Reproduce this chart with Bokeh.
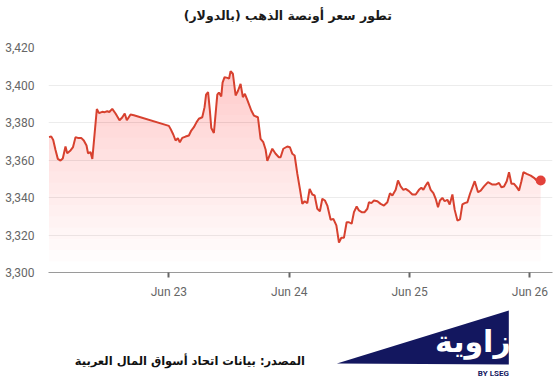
import numpy as np
from bokeh.plotting import figure
from bokeh.layouts import column
from bokeh.models import Range1d, FixedTicker, NumeralTickFormatter
from bokeh.core.properties import value
from bokeh.embed import file_html
from bokeh.resources import INLINE

TITLE = "تطور سعر أونصة الذهب (بالدولار)"
SOURCE = "المصدر: بيانات اتحاد أسواق المال العربية"
LOGO_TEXT = "زاوية"
LOGO_SUB = "BY LSEG"

# hours since Jun 22 00:00
hours = [0.1, 0.54, 0.94, 1.40, 1.86, 2.39, 2.85, 3.39, 3.73, 4.39, 4.89, 5.39, 5.85, 6.52,
         7.04, 7.58, 7.88, 8.38, 8.74, 9.64, 10.07, 10.71, 11.21, 11.71, 12.13, 12.71, 13.37,
         14.16, 14.70, 15.20, 15.62, 16.36, 17.02, 24.00, 24.34, 24.88, 25.34, 25.80, 26.19,
         26.67, 27.33, 27.99, 28.47, 28.99, 29.53, 29.98, 30.66, 31.12, 31.42, 31.82, 32.18,
         32.46, 32.98, 33.66, 33.98, 34.45, 34.71, 35.11, 35.65, 36.01, 36.31, 36.77, 37.31,
         37.77, 38.30, 38.76, 39.16, 39.64, 40.44, 40.96, 41.76, 42.29, 42.83, 43.29, 43.63,
         44.15, 44.63, 45.29, 45.94, 46.28, 46.82, 47.62, 48.14, 48.62, 49.08, 49.62, 50.13,
         50.61, 51.07, 51.61, 52.07, 52.61, 53.07, 53.60, 54.12, 54.60, 55.12, 55.60, 56.26,
         56.80, 57.40, 57.92, 58.39, 58.91, 59.45, 59.91, 60.45, 60.91, 61.45, 61.90, 62.44,
         63.04, 63.58, 63.90, 64.38, 64.90, 65.58, 66.23, 66.89, 67.57, 68.09, 68.57, 69.23,
         69.69, 70.22, 70.76, 71.22, 71.88, 72.56, 73.22, 73.87, 74.35, 74.75, 75.21, 75.67,
         76.21, 76.75, 77.21, 77.67, 78.06, 78.54, 79.00, 79.54, 80.00, 80.54, 81.00, 81.54,
         82.06, 82.53, 82.99, 83.53, 84.05, 84.99, 85.65, 86.18, 86.84, 87.64, 88.52, 89.18,
         89.83, 90.31, 90.83, 91.37, 91.83, 92.31, 92.83, 93.37, 93.83, 94.30, 94.70, 95.36,
         96.16, 96.82, 97.50, 98.15]
prices = [3372.2, 3372.6, 3370.7, 3365.3, 3360.6, 3359.7, 3360.8, 3367.2, 3363.6, 3365.1,
          3366.9, 3372.2, 3371.8, 3371.8, 3370.4, 3367.7, 3363.6, 3364.2, 3360.6, 3387.2,
          3385.0, 3385.7, 3385.5, 3386.0, 3385.6, 3387.3, 3384.8, 3381.2, 3382.7, 3384.8,
          3381.2, 3384.3, 3383.9, 3378.2, 3376.6, 3373.6, 3370.4, 3371.6, 3369.5, 3371.8,
          3372.5, 3373.1, 3375.7, 3377.5, 3380.2, 3382.0, 3382.8, 3388.2, 3394.9, 3396.2,
          3386.4, 3377.1, 3374.4, 3394.9, 3396.0, 3393.9, 3401.3, 3404.2, 3403.8, 3403.5,
          3407.4, 3406.0, 3394.4, 3396.8, 3400.6, 3393.5, 3395.3, 3392.1, 3386.4, 3383.7,
          3382.8, 3371.3, 3369.5, 3365.6, 3359.5, 3362.9, 3366.0, 3363.3, 3361.5, 3361.5,
          3366.0, 3367.2, 3366.8, 3363.3, 3362.4, 3352.6, 3344.6, 3336.6, 3338.0, 3337.0,
          3344.6, 3341.6, 3341.1, 3334.0, 3332.7, 3339.3, 3338.4, 3335.7, 3328.1, 3328.6,
          3325.1, 3316.0, 3318.5, 3318.5, 3326.8, 3326.8, 3326.0, 3332.2, 3335.2, 3333.1,
          3332.2, 3332.2, 3334.0, 3337.5, 3337.0, 3338.4, 3338.0, 3336.6, 3335.7, 3337.5,
          3342.3, 3341.1, 3344.1, 3349.1, 3345.9, 3344.1, 3344.6, 3343.4, 3341.6, 3341.6,
          3344.1, 3345.2, 3344.1, 3346.4, 3348.2, 3344.1, 3342.3, 3339.3, 3334.8, 3338.4,
          3339.8, 3338.0, 3338.8, 3336.3, 3341.6, 3333.4, 3327.7, 3328.3, 3336.3, 3337.0,
          3337.5, 3342.0, 3348.7, 3342.8, 3343.7, 3345.9, 3348.2, 3346.9, 3346.9, 3347.8,
          3345.5, 3345.9, 3348.7, 3353.5, 3347.3, 3347.3, 3345.5, 3343.7, 3348.7, 3353.5,
          3352.6, 3351.7, 3350.5, 3348.7, 3349.1]

tick_hours = [24, 48, 72, 96]
tick_labels = ["Jun 23", "Jun 24", "Jun 25", "Jun 26"]
y_ticks = [3300, 3320, 3340, 3360, 3380, 3400, 3420]

W = 554
LINE = "#d7412f"
ARABIC = "DejaVu Sans"

# ---------- title ----------
tf = figure(width=W, height=37, output_backend="svg", toolbar_location=None,
            x_range=Range1d(0, W), y_range=Range1d(0, 37), min_border=0)
tf.axis.visible = False
tf.grid.visible = False
tf.outline_line_color = None
tf.text(x=[263], y=[22], text=[TITLE], text_font=value(ARABIC), text_font_style="bold",
        text_font_size="12.5px", text_align="center", text_baseline="middle", text_color="#1a1a1a")

# ---------- chart ----------
p = figure(width=W, height=271, output_backend="svg", toolbar_location=None,
           x_range=Range1d(0, 100.5), y_range=Range1d(3300, 3420),
           min_border_left=48, min_border_right=2, min_border_top=10, min_border_bottom=36)
p.outline_line_color = None
p.xgrid.visible = False
p.ygrid.grid_line_color = "#ececec"
p.ygrid.ticker = FixedTicker(ticks=y_ticks)

p.yaxis.ticker = FixedTicker(ticks=y_ticks)
p.yaxis.formatter = NumeralTickFormatter(format="0,0")
p.yaxis.axis_line_color = None
p.yaxis.major_tick_line_color = None
p.yaxis.minor_tick_line_color = None
p.yaxis.major_label_standoff = 8

p.xaxis.ticker = FixedTicker(ticks=tick_hours)
p.xaxis.major_label_overrides = {t: l for t, l in zip(tick_hours, tick_labels)}
p.xaxis.axis_line_color = "#9a9a9a"
p.xaxis.major_tick_line_color = "#666666"
p.xaxis.major_tick_line_width = 2
p.xaxis.major_tick_in = 0
p.xaxis.major_tick_out = 5
p.xaxis.minor_tick_line_color = None
p.xaxis.major_label_standoff = 7

for ax in (p.xaxis, p.yaxis):
    ax.major_label_text_font = "Roboto"
    ax.major_label_text_font_size = "12px"
    ax.major_label_text_color = "#666666"

# gradient-like fill
xs = np.array(hours)
ys = np.array(prices)
for L in np.arange(3306, 3410, 6):
    p.varea(x=xs, y1=float(L), y2=np.maximum(ys, L), fill_color="#e8453c", fill_alpha=0.015)

p.line(xs, ys, line_color=LINE, line_width=2)
p.scatter([hours[-1]], [prices[-1]], size=10, fill_color="#e2413a", line_color=None)

# ---------- footer ----------
ff = figure(width=W, height=77, output_backend="svg", toolbar_location=None,
            x_range=Range1d(0, W), y_range=Range1d(0, 77), min_border=0)
ff.axis.visible = False
ff.grid.visible = False
ff.outline_line_color = None
logo_x = [317, 506, 506]
logo_y = [22, 75, 21]
ff.patch(logo_x, logo_y, fill_color="#13175f", line_color=None)
ff.text(x=[508], y=[44], text=[LOGO_TEXT], text_font=value(ARABIC), text_font_style="bold",
        text_font_size="30px", text_align="right", text_baseline="middle", text_color="white")
ff.text(x=[506], y=[12], text=[LOGO_SUB], text_font=value("Roboto"), text_font_style="bold",
        text_font_size="8px", text_align="right", text_baseline="middle", text_color="#13175f")
ff.text(x=[282], y=[25], text=[SOURCE], text_font=value(ARABIC), text_font_style="bold",
        text_font_size="11.5px", text_align="right", text_baseline="middle", text_color="#111111")

layout = column(tf, p, ff, spacing=0)
open("out.html", "w").write(file_html(layout, INLINE))
